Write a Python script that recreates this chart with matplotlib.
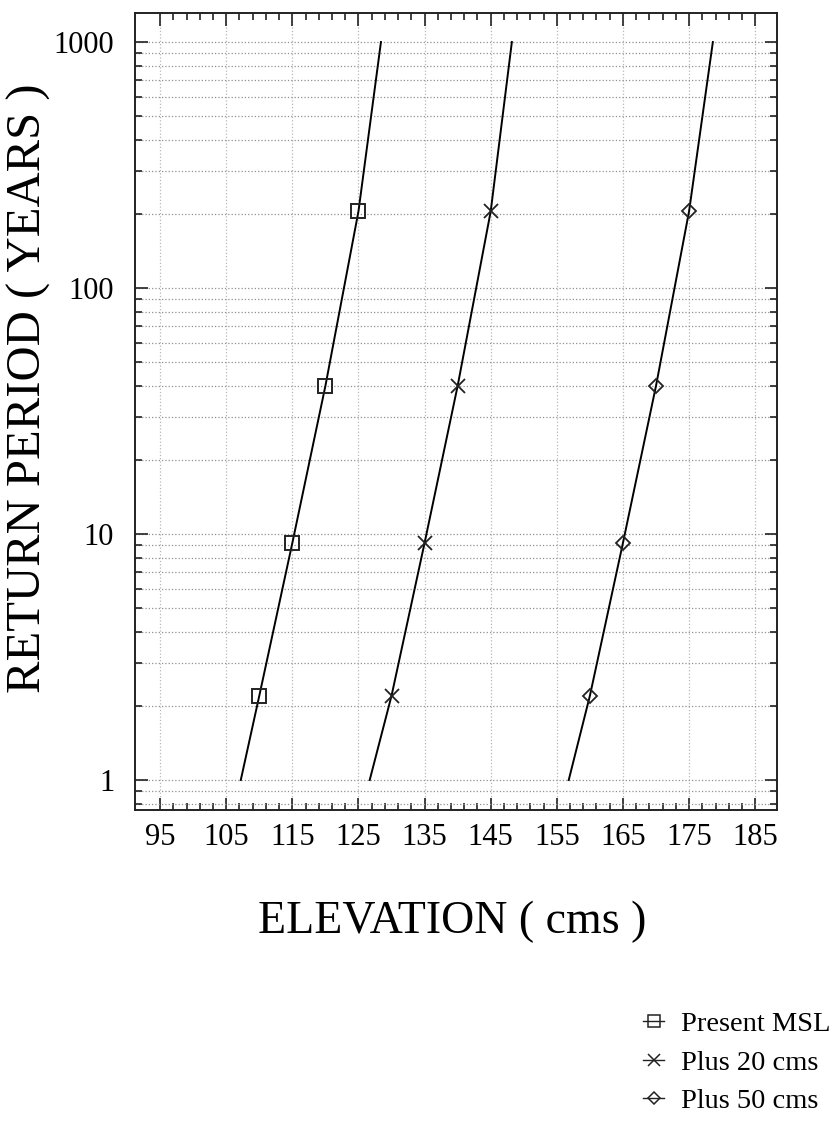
import matplotlib
matplotlib.use("Agg")
import matplotlib.pyplot as plt
from matplotlib.lines import Line2D
from matplotlib.ticker import FixedLocator, LogLocator, NullFormatter

plt.rcParams['font.family'] = ['Liberation Serif', 'DejaVu Serif']

# return periods of the plotted points (years)
return_period = [2.2, 9.2, 40, 205]
# elevations (cms) for each sea level case
elev_msl = [110, 115, 120, 125]
elev_plus20 = [130, 135, 140, 145]
elev_plus50 = [160, 165, 170, 175]

# fitted curves (T from 1 to 1000)
fit_T = [1, 2.2, 9.2, 40, 205, 1000]
fit_msl = [107.2, 110, 115, 120, 125, 128.4]
fit_plus20 = [126.7, 130, 135, 140, 145, 148.2]
fit_plus50 = [156.8, 160, 165, 170, 175, 178.6]

x_major = [95, 105, 115, 125, 135, 145, 155, 165, 175, 185]
y_major = [1, 10, 100, 1000]

fig = plt.figure(figsize=(8.4, 11.21), dpi=100)
ax = fig.add_axes([0.1607, 0.2774, 0.7643, 0.711])

# fitted lines
ax.plot(fit_msl, fit_T, color='k', lw=1.4)
ax.plot(fit_plus20, fit_T, color='k', lw=1.4)
ax.plot(fit_plus50, fit_T, color='k', lw=1.4)

# data points
ax.plot(elev_msl, return_period, ls='none', marker='s', ms=9.5,
        mfc='none', mec='#222222', mew=1.4)
ax.plot(elev_plus20, return_period, ls='none', marker='x', ms=10,
        mec='#222222', mew=1.3)
ax.plot(elev_plus50, return_period, ls='none', marker='D', ms=7.5,
        mfc='none', mec='#222222', mew=1.3)

ax.set_yscale('log')
ax.set_xlim(91.2, 188.3)
ax.set_ylim(0.755, 1312)

ax.xaxis.set_major_locator(FixedLocator(x_major))
ax.xaxis.set_minor_locator(FixedLocator([v for v in range(95, 186, 2) if v not in x_major]))
ax.yaxis.set_major_locator(FixedLocator(y_major))
ax.yaxis.set_minor_locator(LogLocator(base=10, subs=range(2, 10)))
ax.yaxis.set_minor_formatter(NullFormatter())
ax.set_yticklabels([str(v) for v in y_major])

ax.tick_params(which='both', direction='in', top=True, right=True,
               color='#222222', width=1.2)
ax.tick_params(which='major', length=9, labelsize=22)
ax.tick_params(which='minor', length=5)
ax.tick_params(axis='x', pad=9)
ax.tick_params(axis='y', pad=15)

for sp in ax.spines.values():
    sp.set_linewidth(1.4)
    sp.set_color('#222222')

# grid
ax.grid(True, which='major', axis='x', ls=':', color='#b8b8b8', lw=0.9)
ax.grid(True, which='both', axis='y', ls=':', color='#909090', lw=0.9)

ax.set_xlabel('ELEVATION ( cms )', fontsize=33)
ax.xaxis.set_label_coords(0.494, -0.114)
ax.set_ylabel('RETURN PERIOD ( YEARS )', fontsize=35)
ax.yaxis.set_label_coords(-0.131, 0.529)

handles = [
    Line2D([], [], color='#222222', lw=1, marker='s', ms=8, mfc='none', mew=1.1),
    Line2D([], [], color='#222222', lw=1, marker='x', ms=9, mew=1.1),
    Line2D([], [], color='#222222', lw=1, marker='D', ms=6.5, mfc='none', mew=1.1),
]
labels = ['Present MSL', 'Plus 20 cms', 'Plus 50 cms']
fig.legend(handles, labels, loc='upper left', bbox_to_anchor=(0.735, 0.121),
           frameon=False, fontsize=20.5, handlelength=0.75, handletextpad=0.6,
           labelspacing=0.45)

fig.savefig('out.png', dpi=100)
